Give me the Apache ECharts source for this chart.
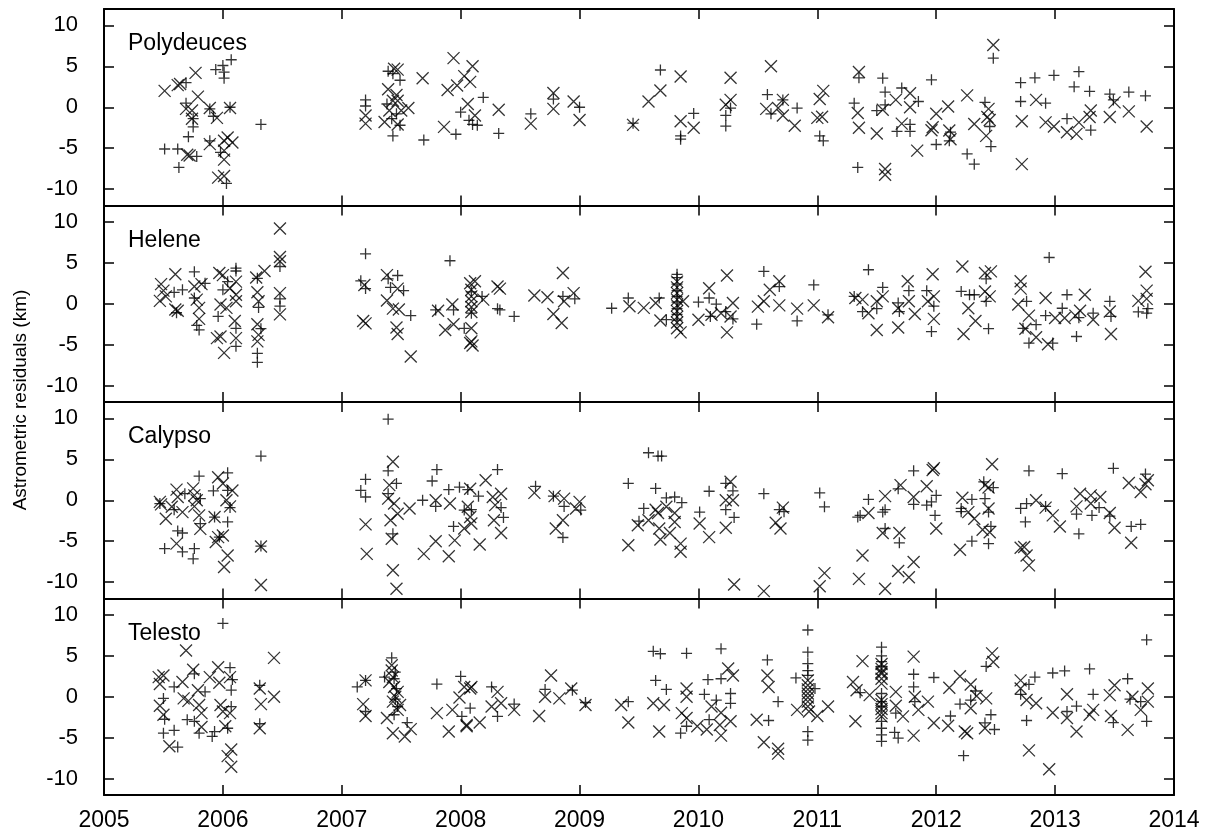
<!DOCTYPE html>
<html>
<head>
<meta charset="utf-8">
<title>Astrometric residuals</title>
<script src="https://cdn.jsdelivr.net/npm/echarts@6.0.0/dist/echarts.min.js"></script>
<style>
    html, body { margin: 0; padding: 0; background: #fff; }
    #main { width: 1216px; height: 836px; }
</style>
</head>
<body>
<div id="main"></div>
<script>
// 数据: [year, residual km]
var moonNames = ['Polydeuces', 'Helene', 'Calypso', 'Telesto'];
var yearTicks = [2005, 2014];
var residualTicks = [-10, -5, 0, 5, 10];

var polyPlus = [[2005.51,-5.1],[2005.62,-5.1],[2005.63,-7.35],[2005.69,3.0],[2005.69,0.5],[2005.71,-3.6],[2005.75,-2.4],[2005.75,-1.4],[2005.78,-6.0],[2005.89,-4.1],[2005.94,4.6],[2006.0,5.1],[2006.01,4.3],[2006.01,3.55],[2006.07,5.8],[2006.03,-9.3],[2005.92,-1.1],[2006.06,0],[2006.32,-2.1],[2005.89,-0.2],[2005.98,-5.5],
    [2007.2,0.9],[2007.2,0.15],[2007.39,4.4],[2007.43,4.1],[2007.49,3.3],[2007.43,-3.5],[2007.69,-4.0],[2007.49,-2.2],[2007.46,-0.8],[2007.38,0.4],[2007.42,-1.4],[2007.96,-3.3],[2008.0,-0.6],[2008.07,-1.6],[2008.14,-2.2],
    [2008.1,-2.1],[2008.19,1.2],[2008.32,-3.2],[2008.59,-0.8],[2008.78,1.0],[2009.0,0],[2009.45,-1.95],[2009.68,4.55],[2009.96,-0.75],[2009.85,-3.5],[2009.85,-3.9],[2010.23,-1.0],[2010.23,-2.3],[2010.27,-0.1],[2010.58,1.55],[2010.61,-0.8],[2010.71,0.9],[2010.83,-0.1],[2011.02,-3.5],[2011.05,-4.1],
    [2011.31,0.5],[2011.35,3.6],[2011.34,-7.35],[2011.5,-0.4],[2011.55,3.55],[2011.57,1.85],[2011.57,0.3],[2011.67,-2.95],[2011.71,2.35],[2011.78,-2.1],[2011.78,-2.95],[2011.85,0.7],[2011.96,3.35],[2012.0,-4.55],[2012.12,-3.05],[2012.11,-4.1],[2012.26,-5.7],[2012.32,-6.95],[2012.41,0.6],[2012.45,-2.35],[2012.46,-4.8],[2012.48,6.0],[2012.71,3.0],[2012.71,0.7],[2012.83,3.6],[2012.92,0.5],[2012.99,3.9],[2013.1,-1.4],[2013.16,2.5],[2013.2,4.35],[2013.29,1.95],[2013.3,-2.8],[2013.46,1.6],[2013.49,0.9],[2013.62,1.85],[2013.76,1.4]];
var polyCross = [[2005.51,2.0],[2005.62,2.7],[2005.64,2.85],[2005.77,4.2],[2005.79,1.3],[2005.69,-0.2],[2005.74,-0.4],[2005.74,-1.4],[2005.89,-0.1],[2005.95,-1.3],[2005.7,-5.8],[2005.72,-5.9],[2005.89,-4.5],[2006.01,-4.1],[2006.04,-3.7],[2006.08,-4.3],[2006.01,-5.3],[2006.01,-6.4],[2005.96,-8.6],[2006.01,-8.4],[2006.06,-0.1],
    [2007.2,-1.0],[2007.2,-2.0],[2007.36,-1.8],[2007.39,2.2],[2007.44,4.7],[2007.47,4.6],[2007.47,0.8],[2007.43,0.8],[2007.4,-0.4],[2007.5,-0.4],[2007.56,-0.1],[2007.46,1.5],[2007.47,-2.1],[2007.68,3.55],[2007.94,6.0],[2007.89,2.1],[2007.97,2.65],[2008.03,3.8],[2007.86,-2.4],[2008.06,0.4],
    [2008.1,5.0],[2008.08,3.1],[2008.12,-1.0],[2008.32,-0.3],[2008.59,-2.0],[2008.78,1.75],[2008.78,-0.2],[2008.95,0.7],[2009.0,-1.55],[2009.45,-2.15],[2009.58,0.7],[2009.68,2.05],[2009.85,3.75],[2009.85,-1.7],[2009.96,-2.5],[2010.27,3.6],[2010.23,0.3],[2010.27,0.9],[2010.61,5.0],[2010.57,-0.2],[2010.67,-0.1],[2010.71,-1.0],[2010.81,-2.25],[2010.71,0.9],[2011.02,1.0],[2011.05,2.0],[2011.0,-1.3],[2011.04,-1.15],
    [2011.35,4.3],[2011.34,-0.7],[2011.35,-2.5],[2011.5,-3.2],[2011.55,-0.3],[2011.57,-7.55],[2011.57,-8.25],[2011.66,0.9],[2011.78,1.7],[2011.78,0],[2011.71,-2.0],[2011.84,-5.3],[2011.97,-2.45],[2011.96,-2.8],[2012.0,-0.8],[2012.1,0.1],[2012.11,-2.85],[2012.12,-3.9],[2012.26,1.45],[2012.32,-2.05],[2012.42,-3.5],[2012.43,-1.2],[2012.44,-0.2],[2012.45,-1.55],[2012.48,7.6],[2012.72,-1.7],[2012.72,-6.95],[2012.84,0.9],[2012.92,-1.85],[2012.99,-2.35],[2013.1,-3.05],[2013.18,-3.25],[2013.2,-1.85],[2013.3,-0.4],[2013.29,-1.2],[2013.46,-1.2],[2013.5,0.6],[2013.62,-0.5],[2013.77,-2.35]];

var helenePlus = [[2005.59,1.4],[2005.66,1.7],[2005.61,-1.1],[2005.76,3.9],[2005.76,0.7],[2005.78,-2.65],[2005.8,-3.2],[2005.85,2.5],[2005.96,-1.55],[2006.0,1.7],[2006.04,2.7],[2006.11,4.35],[2006.11,4.0],[2006.11,-3.0],[2006.11,-5.2],[2006.29,3.1],[2006.3,-0.45],[2006.32,-3.05],[2006.29,-6.05],[2006.29,-7.15],[2006.48,4.55],[2006.48,0.6],[2006.48,-0.3],
    [2007.2,6.1],[2007.16,2.8],[2007.2,1.85],[2007.39,3.05],[2007.41,2.0],[2007.47,3.45],[2007.52,1.6],[2007.58,-1.45],[2007.91,5.25],[2007.79,-0.75],[2007.94,-0.75],[2008.03,-3.0],
    [2008.09,1.45],[2008.09,-1.15],[2008.18,0.9],[2008.31,-0.6],[2008.33,-0.75],[2008.45,-1.55],[2008.86,0.9],[2008.96,0.6],[2009.27,-0.55],[2009.41,0.7],[2009.67,0.7],[2009.73,-1.95],
    [2009.82,3.6],[2009.82,3.2],[2009.82,2.4],[2009.82,1.6],[2009.82,0.9],[2009.82,0.2],[2009.82,-0.6],[2009.82,-1.3],[2009.82,-2.0],[2010.0,0.2],[2010.09,0.7],[2010.1,-1.55],[2010.15,-0.05],[2010.23,-0.95],[2010.29,-1.85],[2010.55,3.95],[2010.49,-2.5],[2010.68,2.1],[2010.83,-2.1],[2010.97,2.3],[2011.09,-1.35],
    [2011.31,0.9],[2011.38,-0.95],[2011.43,4.15],[2011.5,-0.6],[2011.55,2.0],[2011.68,0.1],[2011.69,-0.95],[2011.77,1.6],[2011.92,1.6],[2011.96,-3.4],[2011.98,-0.3],[2012.21,1.5],[2012.28,1.1],[2012.32,1.1],[2012.42,3.05],[2012.42,0.3],[2012.44,-3.05],[2012.76,0.3],[2012.73,-3.0],[2012.78,-4.8],[2012.84,-2.55],[2012.92,-1.45],[2012.95,5.65],[2012.98,-4.8],[2013.06,-0.55],[2013.1,1.1],[2013.18,-4.0],[2013.2,-1.7],[2013.32,-1.15],[2013.46,0.3],[2013.47,-1.55],[2013.7,-1.0],[2013.77,-1.15],[2013.78,-0.6]];
var heleneCross = [[2005.48,2.4],[2005.47,0.35],[2005.5,1.6],[2005.52,0.9],[2005.6,3.6],[2005.6,-0.7],[2005.62,-0.85],[2005.76,2.1],[2005.78,0.5],[2005.8,-0.5],[2005.8,-1.85],[2005.82,2.4],[2005.97,3.75],[2006.0,3.5],[2005.95,-4.2],[2005.98,-4.0],[2006.01,-6.0],[2005.98,-0.1],[2006.03,-0.5],[2006.06,1.9],[2006.11,2.7],[2006.11,1.1],[2006.11,0.3],[2006.1,-2.1],[2006.11,-4.2],[2006.28,3.2],[2006.29,1.4],[2006.3,0.3],[2006.29,-2.5],[2006.3,-3.8],[2006.29,-4.6],[2006.35,4.0],[2006.48,9.2],[2006.48,5.7],[2006.48,5.2],[2006.48,1.3],[2006.48,-1.3],
    [2007.18,-2.1],[2007.2,-2.4],[2007.19,2.3],[2007.38,3.5],[2007.38,0.4],[2007.43,-0.6],[2007.47,1.85],[2007.48,-0.7],[2007.46,-2.9],[2007.47,-3.7],[2007.58,-6.45],[2007.81,-0.85],[2007.87,-3.2],[2007.94,-2.5],[2007.93,-0.1],[2008.08,2.5],[2008.08,-4.8],
    [2008.12,2.75],[2008.09,1.7],[2008.09,0.9],[2008.09,0.3],[2008.09,-0.4],[2008.09,-1.0],[2008.09,-3.0],[2008.09,-4.6],[2008.1,-5.1],[2008.19,0.5],[2008.31,2.1],[2008.33,1.85],[2008.62,1.0],[2008.73,0.8],[2008.78,-1.25],[2008.85,-2.35],[2008.86,3.75],[2008.87,0.3],[2008.95,1.3],[2009.42,-0.3],[2009.54,-0.5],[2009.64,0.1],[2009.68,-2.05],
    [2009.82,2.7],[2009.82,2.0],[2009.82,1.3],[2009.82,0.5],[2009.82,-0.2],[2009.82,-0.9],[2009.82,-1.6],[2009.82,-2.3],[2009.82,-3.0],[2009.85,-3.5],[2009.87,0.3],[2010.0,-1.95],[2010.09,1.9],[2010.11,-1.35],[2010.19,-1.15],[2010.24,3.45],[2010.24,-3.5],[2010.29,0.1],[2010.27,-1.55],[2010.5,-0.35],[2010.55,0.3],[2010.6,1.7],[2010.68,2.75],[2010.68,-0.2],[2010.83,-0.6],[2010.97,-0.2],[2011.09,-1.65],
    [2011.32,0.7],[2011.38,0.5],[2011.43,-1.15],[2011.5,-3.2],[2011.5,0.3],[2011.55,0.9],[2011.68,-0.55],[2011.68,-2.9],[2011.76,2.75],[2011.77,0.3],[2011.82,-1.25],[2011.93,0.3],[2011.97,3.6],[2011.98,0.9],[2011.98,-1.85],[2012.22,4.55],[2012.23,-3.7],[2012.27,-0.55],[2012.33,-2.1],[2012.41,3.75],[2012.46,3.95],[2012.41,1.5],[2012.45,0.9],[2012.69,-0.1],[2012.71,2.75],[2012.71,1.85],[2012.78,-1.45],[2012.75,-3.05],[2012.84,-4.1],[2012.94,-4.95],[2012.92,0.7],[2013.0,-1.75],[2013.08,-1.75],[2013.17,-1.45],[2013.21,-0.85],[2013.25,1.1],[2013.32,-1.95],[2013.46,-0.95],[2013.47,-3.7],[2013.7,0.35],[2013.76,3.9],[2013.77,1.6],[2013.77,0.6]];

var calypsoPlus = [[2005.47,-0.4],[2005.51,-5.9],[2005.59,-1.15],[2005.62,-3.75],[2005.66,-4.0],[2005.66,-6.3],[2005.68,0.8],[2005.76,-5.9],[2005.75,-7.15],[2005.8,2.95],[2005.81,0.2],[2005.81,-2.85],[2005.92,1.15],[2005.93,-2.05],[2005.97,-4.5],[2006.04,3.35],[2006.04,1.2],[2006.04,-2.65],[2006.06,-0.9],[2006.32,5.4],[2006.32,-5.6],
    [2007.39,9.9],[2007.2,2.55],[2007.16,1.2],[2007.2,0.4],[2007.39,3.6],[2007.46,2.05],[2007.39,0.8],[2007.43,-4.1],[2007.68,0],[2007.76,2.35],[2007.8,3.75],[2007.79,-0.75],[2007.9,1.3],[2007.94,-3.2],[2007.99,1.6],[2008.03,-1.2],
    [2008.06,1.3],[2008.09,-1.15],[2008.15,0.5],[2008.31,3.75],[2008.34,-0.9],[2008.36,-2.1],[2008.63,1.7],[2008.78,0.5],[2008.87,-0.75],[2008.86,-4.55],[2009.01,-1.2],[2009.41,2.05],[2009.54,-1.0],[2009.5,-2.55],[2009.58,5.8],[2009.66,5.4],[2009.69,5.4],[2009.64,1.45],[2009.73,0.3],[2009.8,0.4],[2009.86,-0.3],[2010.01,-1.45],[2010.09,1.1],[2010.23,2.05],[2010.23,-1.15],[2010.29,1.15],[2010.3,-2.1],[2010.55,0.8],[2010.68,-1.15],[2010.72,-1.4],[2011.02,0.9],[2011.06,-0.8],
    [2011.34,-2.05],[2011.36,-1.85],[2011.43,0.1],[2011.55,-1.45],[2011.57,-1.15],[2011.57,-3.45],[2011.69,-5.2],[2011.68,1.4],[2011.81,3.6],[2011.81,-0.5],[2011.92,-0.6],[2011.96,-0.2],[2011.99,-1.85],[2012.0,0.6],[2012.21,-1.0],[2012.21,-1.4],[2012.3,0.1],[2012.3,-5.0],[2012.4,2.25],[2012.41,0.2],[2012.44,-1.45],[2012.44,-5.3],[2012.46,-3.2],[2012.48,1.55],[2012.71,-1.0],[2012.76,-0.4],[2012.75,-2.65],[2012.78,3.6],[2012.92,-0.75],[2013.06,3.25],[2013.18,-1.7],[2013.2,-4.1],[2013.31,-1.85],[2013.37,-0.9],[2013.46,-1.95],[2013.49,3.9],[2013.64,-3.2],[2013.72,-2.95],[2013.76,3.2]];
var calypsoCross = [[2005.47,-0.2],[2005.48,-0.5],[2005.52,-2.25],[2005.57,-0.8],[2005.61,1.3],[2005.62,0.4],[2005.66,-1.45],[2005.75,1.45],[2005.76,0.6],[2005.76,-0.75],[2005.78,0],[2005.8,-1.85],[2005.81,-3.5],[2005.61,-5.3],[2005.96,2.8],[2006.0,2.05],[2005.93,-2.05],[2005.94,-5.1],[2005.96,-4.5],[2006.0,-4.3],[2006.04,-6.75],[2006.01,-8.15],[2006.03,0],[2006.06,-0.75],[2006.08,1.2],[2006.32,-5.65],[2006.32,-10.35],
    [2007.2,-2.95],[2007.21,-6.55],[2007.43,4.7],[2007.4,1.85],[2007.39,0.2],[2007.44,-0.4],[2007.41,-2.45],[2007.42,-4.7],[2007.43,-8.55],[2007.46,-10.8],[2007.47,-1.65],[2007.57,-1.0],[2007.69,-6.55],[2007.79,-5.0],[2007.9,-6.85],[2007.95,-4.9],[2007.91,-0.4],[2008.03,-3.45],[2007.79,0],
    [2008.08,1.4],[2008.06,-0.8],[2008.08,-2.05],[2008.09,-2.85],[2008.21,2.45],[2008.27,0.4],[2008.29,-0.6],[2008.28,-2.45],[2008.34,0.8],[2008.34,-4.0],[2008.16,-5.4],[2008.62,0.9],[2008.79,0.5],[2008.87,0.2],[2008.86,-2.45],[2008.8,-3.45],[2009.0,-0.2],[2008.97,-1.0],[2009.41,-5.5],[2009.49,-3.05],[2009.58,-2.45],[2009.64,-1.15],[2009.66,-1.55],[2009.67,-3.45],[2009.68,-4.8],[2009.73,-0.8],[2009.76,-4.0],[2009.8,-1.55],[2009.8,-2.65],[2009.85,-5.3],[2009.85,-6.3],[2010.01,-2.85],[2010.09,-4.5],[2010.23,-3.35],[2010.23,0],[2010.27,2.25],[2010.29,0],[2010.3,-10.3],[2010.55,-11.1],[2010.65,-2.75],[2010.69,-3.45],[2010.71,-0.9],[2011.02,-10.5],[2011.06,-8.9],
    [2011.35,-9.6],[2011.38,-6.75],[2011.43,-1.55],[2011.55,-4.0],[2011.57,0.5],[2011.57,-10.8],[2011.68,-8.65],[2011.69,-4.0],[2011.7,1.85],[2011.77,-9.4],[2011.81,-7.55],[2011.81,0.4],[2011.92,1.7],[2011.97,3.7],[2011.98,3.9],[2012.0,-3.45],[2012.2,-6.05],[2012.22,0.3],[2012.27,-1.45],[2012.32,-2.25],[2012.39,-3.6],[2012.41,1.85],[2012.44,1.55],[2012.44,-1.0],[2012.45,-3.9],[2012.47,4.4],[2012.71,-5.8],[2012.74,-5.7],[2012.76,-6.75],[2012.78,-7.95],[2012.84,0],[2012.92,-0.9],[2012.98,-1.85],[2013.04,-3.2],[2013.18,-0.75],[2013.21,0.8],[2013.3,0.6],[2013.3,-0.4],[2013.38,0.4],[2013.46,-1.55],[2013.5,-3.35],[2013.62,2.1],[2013.64,-5.2],[2013.72,1.0],[2013.76,1.95],[2013.78,2.45]];

var telestoPlus = [[2005.5,-4.45],[2005.51,-2.75],[2005.5,-0.2],[2005.59,-4.1],[2005.62,-6.15],[2005.59,1.2],[2005.7,-2.8],[2005.76,-3.0],[2005.76,2.8],[2005.8,-4.45],[2005.85,0.6],[2005.91,-4.85],[2005.93,-4.25],[2006.0,8.95],[2006.04,-3.85],[2006.06,3.55],[2006.08,2.1],[2006.07,0.8],[2006.07,-1.2],[2006.31,1.4],[2006.31,-3.3],
    [2007.13,1.2],[2007.2,2.0],[2007.2,-1.8],[2007.36,2.4],[2007.42,4.75],[2007.45,3.0],[2007.44,2.2],[2007.46,1.0],[2007.45,-0.3],[2007.47,-1.2],[2007.44,-2.2],[2007.55,-3.15],[2007.8,1.55],[2008.0,2.5],[2008.01,-2.4],[2008.08,-1.4],
    [2008.26,1.2],[2008.31,-2.4],[2008.45,-0.9],[2008.71,0.9],[2008.94,0.8],[2009.05,-0.7],[2009.41,-0.6],[2009.62,5.55],[2009.68,5.25],[2009.64,2.0],[2009.73,0.9],[2009.9,5.3],[2009.85,-4.45],[2009.9,-3.6],[2010.05,0.3],[2010.08,2.1],[2010.09,-2.8],[2010.15,-0.4],[2010.19,2.2],[2010.19,5.85],[2010.27,0.4],[2010.27,-0.8],[2010.58,4.5],[2010.59,-2.9],[2010.67,-0.6],[2010.82,2.3],
    [2010.92,8.15],[2010.92,5.45],[2010.92,4.05],[2010.92,3.2],[2010.92,2.6],[2010.92,-4.25],[2010.92,-5.3],[2010.98,1.0],
    [2011.36,0.5],[2011.54,6.05],[2011.54,5.0],[2011.54,4.3],[2011.54,3.7],[2011.54,0.4],[2011.54,-0.6],[2011.54,-1.2],[2011.54,-3.0],[2011.54,-3.85],[2011.54,-4.65],[2011.54,-5.45],[2011.65,-4.35],[2011.68,-5.05],[2011.66,-2.0],[2011.81,2.75],[2011.81,1.2],[2011.82,-0.6],[2011.98,2.35],[2012.12,-2.35],[2012.2,-0.9],[2012.23,-7.2],[2012.29,-0.4],[2012.33,0.7],[2012.41,-3.2],[2012.42,3.7],[2012.46,-2.2],[2012.49,-4.0],[2012.71,0.3],[2012.76,-2.9],[2012.78,1.5],[2012.83,2.4],[2012.98,2.9],[2013.08,3.15],[2013.1,-1.8],[2013.18,-1.15],[2013.29,3.4],[2013.32,0.3],[2013.49,-3.15],[2013.61,2.2],[2013.63,-0.3],[2013.72,-0.6],[2013.77,6.95],[2013.77,-3.0]];
var telestoCross = [[2005.46,2.4],[2005.47,1.55],[2005.5,2.6],[2005.47,-1.1],[2005.5,-2.2],[2005.55,-6.05],[2005.69,5.65],[2005.66,1.8],[2005.67,-0.2],[2005.71,-0.5],[2005.75,3.3],[2005.79,0.8],[2005.8,-1.0],[2005.82,-2.0],[2005.82,-3.7],[2005.89,2.4],[2005.96,3.6],[2005.98,-1.0],[2005.97,1.7],[2006.0,-1.8],[2006.02,-3.6],[2006.04,-7.25],[2006.07,-6.45],[2006.07,-8.55],[2006.06,2.4],[2006.06,-2.0],[2006.31,1.0],[2006.32,-0.9],[2006.31,-3.85],[2006.43,4.75],[2006.43,0],
    [2007.18,-0.9],[2007.2,-2.35],[2007.2,2.0],[2007.38,-2.6],[2007.42,3.85],[2007.42,3.2],[2007.43,2.4],[2007.4,1.8],[2007.44,1.2],[2007.47,0.6],[2007.45,0],[2007.43,-0.6],[2007.49,-1.0],[2007.47,-1.6],[2007.43,-4.45],[2007.53,-4.85],[2007.58,-3.95],[2007.8,-2.0],[2007.9,-4.25],[2007.93,-1.6],[2007.99,-0.1],[2008.05,-3.45],[2008.03,1.2],[2008.08,1.0],
    [2008.09,1.2],[2008.16,-3.15],[2008.05,-3.6],[2008.26,-1.2],[2008.31,0.6],[2008.34,-0.8],[2008.45,-1.6],[2008.66,-2.35],[2008.71,0],[2008.76,2.6],[2008.83,-0.2],[2008.93,1.0],[2009.05,-1.0],[2009.35,-1.0],[2009.41,-3.15],[2009.62,-0.8],[2009.67,-4.25],[2009.71,-1.0],[2009.86,-2.0],[2009.9,1.0],[2009.9,0],[2009.9,-2.6],[2009.99,-3.6],[2010.07,-4.0],[2010.11,-1.2],[2010.18,-3.45],[2010.19,-4.75],[2010.25,3.45],[2010.29,2.6],[2010.27,-3.0],[2010.19,-1.95],[2010.49,-2.8],[2010.55,-5.55],[2010.58,2.6],[2010.59,1.2],[2010.67,-6.35],[2010.67,-6.95],[2010.83,-1.6],
    [2010.92,2.0],[2010.92,1.4],[2010.92,0.9],[2010.92,0.4],[2010.92,-0.1],[2010.92,-0.6],[2010.92,-1.2],[2010.93,-1.8],[2011.0,-2.35],[2011.09,-1.2],
    [2011.3,1.8],[2011.33,0.8],[2011.32,-3.0],[2011.38,4.35],[2011.44,0.2],[2011.54,4.0],[2011.54,3.4],[2011.54,3.0],[2011.54,2.8],[2011.54,2.2],[2011.54,1.6],[2011.54,-0.4],[2011.54,-0.9],[2011.54,-1.5],[2011.54,-2.0],[2011.54,-2.4],[2011.66,-1.1],[2011.66,0.6],[2011.72,-2.4],[2011.81,4.9],[2011.82,0],[2011.81,-4.75],[2011.85,-1.6],[2011.93,-0.6],[2011.98,-3.2],[2012.1,-3.55],[2012.11,1.1],[2012.2,2.5],[2012.24,-4.25],[2012.26,-4.45],[2012.29,1.5],[2012.29,-1.4],[2012.34,0.1],[2012.41,-3.85],[2012.42,-0.2],[2012.47,5.3],[2012.48,4.25],[2012.71,2.0],[2012.71,1.0],[2012.76,-0.4],[2012.78,-6.55],[2012.84,-0.8],[2012.95,-8.85],[2012.98,-1.95],[2013.1,0.3],[2013.1,-2.6],[2013.18,-4.25],[2013.29,-2.2],[2013.32,-1.6],[2013.46,0.2],[2013.5,1.4],[2013.47,-2.35],[2013.61,-4.05],[2013.65,0],[2013.72,-1.6],[2013.78,-0.6],[2013.78,1.0]];

var plusData = [polyPlus, helenePlus, calypsoPlus, telestoPlus];
var crossData = [polyCross, heleneCross, calypsoCross, telestoCross];

// 样式
var FONT = '"Liberation Sans", Arial, Helvetica, sans-serif';
var PLUS = 'path://M5,0L5,10M0,5L10,5';
var CROSS = 'path://M0,0L10,10M10,0L0,10';
var panelTop = 9, panelH = 196.5;

window.onload = function () {
    var chart = echarts.init(document.getElementById('main'));
    chart.setOption(buildOption());
};

function buildOption() {
    var grids = [], xAxes = [], yAxes = [], series = [], graphics = [];

    for (var i = 0; i < 4; i++) {
        grids.push({ left: 104, right: 42, top: panelTop + i * panelH, height: panelH });

        // 下方和上方x轴
        for (var k = 0; k < 2; k++) {
            xAxes.push({
                type: 'value', gridIndex: i, position: k === 0 ? 'bottom' : 'top',
                min: yearTicks[0], max: yearTicks[1], interval: 1,
                axisLine: { show: true, onZero: false, lineStyle: { color: '#000', width: 2 } },
                axisTick: { show: true, inside: true, length: 10, lineStyle: { color: '#000', width: 1.5 } },
                axisLabel: {
                    show: k === 0 && i === 3, color: '#000', fontSize: 23, fontFamily: FONT, margin: 14,
                    formatter: function (v) { return String(v); }
                },
                splitLine: { show: false }
            });
        }
        // 左右y轴
        for (var k = 0; k < 2; k++) {
            yAxes.push({
                type: 'value', gridIndex: i, position: k === 0 ? 'left' : 'right',
                min: -12, max: 12,
                axisLine: { show: true, onZero: false, lineStyle: { color: '#000', width: 2 } },
                axisTick: { show: true, inside: true, length: 10, customValues: residualTicks, lineStyle: { color: '#000', width: 1.5 } },
                axisLabel: { show: k === 0, customValues: residualTicks, color: '#000', fontSize: 22, fontFamily: FONT, margin: 26 },
                splitLine: { show: false }
            });
        }

        series.push({
            type: 'scatter', name: moonNames[i] + ' +', xAxisIndex: i * 2, yAxisIndex: i * 2,
            data: plusData[i], symbol: PLUS, symbolSize: 11,
            itemStyle: { color: 'rgba(0,0,0,0)', borderColor: '#000', borderWidth: 1.3 }
        });
        series.push({
            type: 'scatter', name: moonNames[i] + ' x', xAxisIndex: i * 2, yAxisIndex: i * 2,
            data: crossData[i], symbol: CROSS, symbolSize: 12,
            itemStyle: { color: 'rgba(0,0,0,0)', borderColor: '#000', borderWidth: 1.3 }
        });

        graphics.push({
            type: 'text', x: 128, y: panelTop + i * panelH + 35,
            style: { text: moonNames[i], fill: '#000', fontSize: 23, fontFamily: FONT, textVerticalAlign: 'middle' }
        });
    }

    graphics.push({
        type: 'text', x: 21, y: 400, rotation: Math.PI / 2,
        style: { text: 'Astrometric residuals (km)', fill: '#000', fontSize: 19, fontFamily: FONT, textAlign: 'center', textVerticalAlign: 'middle' }
    });

    return {
        animation: false,
        backgroundColor: '#fff',
        grid: grids,
        xAxis: xAxes,
        yAxis: yAxes,
        series: series,
        graphic: graphics
    };
}
</script>
</body>
</html>
